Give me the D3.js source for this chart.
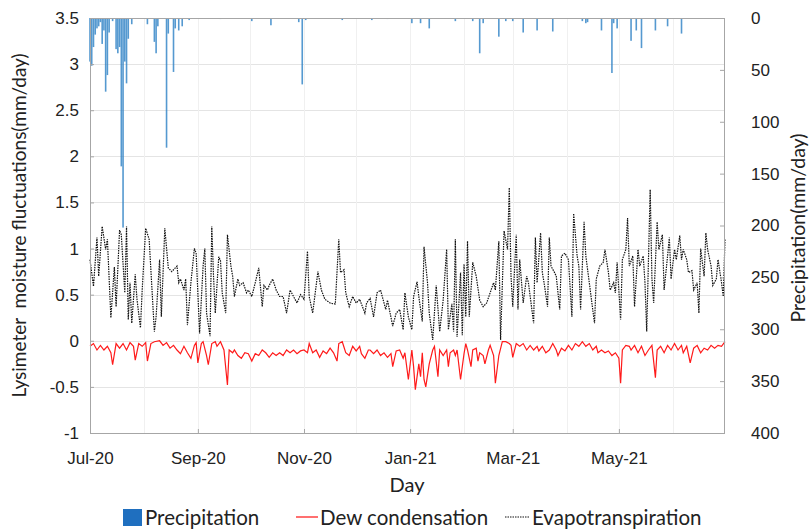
<!DOCTYPE html>
<html>
<head>
<meta charset="utf-8">
<script src="https://cdn.jsdelivr.net/npm/d3@7"></script>
<style>
  body { margin: 0; background: #fff; }
  svg { display: block; font-family: Lato, "Open Sans", sans-serif; }
</style>
</head>
<body>
<script>
const width = 809;
const height = 531;
const margin = { top: 18, right: 84, bottom: 98, left: 90 };

// days counted from 1 Jul 2020
const startDate = new Date(2020, 6, 1);
const endDate = new Date(2021, 6, 1);

const leftTicks = [-1, -0.5, 0, 0.5, 1, 1.5, 2, 2.5, 3, 3.5];
const rightTicks = [0, 50, 100, 150, 200, 250, 300, 350, 400];

// precipitation (mm/day): day index and amount
const precipDay = [0, 1, 2, 3, 4, 5, 6, 7, 8, 9, 10, 11, 13, 15, 16, 17, 18, 19, 20, 21,
  22, 24, 33, 37, 38, 39, 44, 45, 48, 49, 51, 53, 57, 75, 93, 104, 120, 122, 124, 145,
  162, 171, 185, 190, 195, 210, 220, 224, 226, 235, 239, 243, 249, 257, 266, 283, 285,
  286, 294, 300, 301, 303, 311, 314, 317, 325, 332, 340];
const precipMm = [42, 46, 28, 16, 10, 8, 4, 25, 12, 71, 55, 14, 3, 30, 34, 28, 143, 202, 42, 63,
  20, 6, 6, 23, 34, 8, 125, 15, 52, 10, 12, 8, 2, 1, 3, 7, 4, 64, 2, 2,
  2, 1, 5, 5, 10, 3, 3, 34, 5, 18, 3, 3, 14, 12, 13, 3, 5,
  4, 12, 53, 5, 10, 22, 12, 29, 12, 8, 15];

// dew condensation (mm/day)
const dewDay = [0, 2, 4, 6, 8, 10, 12, 13, 15, 17, 19, 21, 23, 25, 26, 28, 30, 32, 33, 35,
  37, 40, 42, 44, 46, 48, 50, 52, 54, 56, 58, 60, 61, 62, 64, 65, 67, 68, 70, 72,
  73, 75, 77, 79, 80, 82, 83, 85, 87, 89, 91, 93, 95, 97, 99, 101, 103, 105, 107, 109,
  111, 113, 115, 117, 119, 121, 123, 125, 126, 128, 130, 132, 134, 136, 138, 140, 142, 143, 145, 147,
  149, 151, 153, 155, 156, 158, 160, 161, 163, 165, 167, 169, 171, 173, 174, 176, 178, 180, 181, 183,
  185, 186, 187, 189, 190, 191, 192, 193, 195, 197, 198, 200, 201, 203, 205, 206, 207, 209, 210, 211,
  213, 215, 216, 217, 219, 220, 222, 223, 224, 226, 227, 229, 230, 232, 233, 235, 237, 239, 241, 242,
  243, 245, 247, 249, 251, 253, 255, 257, 258, 260, 262, 264, 266, 268, 269, 271, 273, 275, 277, 279,
  281, 283, 285, 287, 289, 291, 292, 294, 296, 298, 300, 302, 304, 305, 306, 308, 310, 311, 313, 315,
  317, 319, 321, 323, 325, 326, 328, 330, 332, 334, 336, 338, 340, 341, 343, 345, 347, 349, 351, 353,
  355, 357, 359, 361, 363, 365];
const dewVal = [-0.06, -0.03, -0.1, -0.05, -0.1, -0.06, -0.13, -0.26, -0.03, -0.08, -0.03, -0.1, -0.02, -0.06, -0.21, -0.03, -0.06, -0.02, -0.22, -0.03,
  -0.01, 0, -0.05, -0.02, -0.08, -0.05, -0.1, -0.14, -0.06, -0.13, -0.19, -0.05, -0.02, -0.24, -0.03, -0.01, -0.16, -0.26, -0.03, -0.01,
  -0.06, -0.01, -0.1, -0.48, -0.1, -0.13, -0.1, -0.16, -0.19, -0.13, -0.14, -0.22, -0.14, -0.16, -0.1, -0.13, -0.18, -0.13, -0.16, -0.13,
  -0.16, -0.1, -0.13, -0.1, -0.14, -0.11, -0.1, -0.13, -0.03, -0.13, -0.1, -0.18, -0.11, -0.14, -0.08, -0.13, -0.22, -0.03, -0.01, -0.13,
  -0.16, -0.06, -0.11, -0.06, -0.14, -0.19, -0.1, -0.1, -0.14, -0.1, -0.16, -0.13, -0.18, -0.14, -0.28, -0.11, -0.1, -0.19, -0.13, -0.42,
  -0.1, -0.28, -0.53, -0.25, -0.39, -0.13, -0.42, -0.5, -0.25, -0.1, -0.06, -0.39, -0.1, -0.16, -0.1, -0.28, -0.13, -0.1, -0.16, -0.1,
  -0.42, -0.14, -0.03, -0.1, -0.28, -0.1, -0.08, -0.22, -0.13, -0.16, -0.25, -0.1, -0.05, -0.16, -0.46, -0.16, -0.01, -0.01, -0.03, -0.05,
  -0.18, -0.03, -0.06, -0.03, -0.1, -0.05, -0.1, -0.06, -0.11, -0.06, -0.13, -0.1, -0.03, -0.1, -0.16, -0.08, -0.11, -0.05, -0.1, -0.03,
  -0.06, -0.01, -0.06, -0.03, -0.1, -0.06, -0.13, -0.1, -0.13, -0.11, -0.16, -0.13, -0.19, -0.46, -0.1, -0.05, -0.06, -0.1, -0.05, -0.13,
  -0.06, -0.16, -0.1, -0.05, -0.4, -0.1, -0.06, -0.13, -0.05, -0.1, -0.03, -0.1, -0.05, -0.13, -0.06, -0.24, -0.08, -0.05, -0.13, -0.08,
  -0.1, -0.05, -0.08, -0.05, -0.06, -0.01];

// evapotranspiration (mm/day)
const etDay = [0, 2, 4, 5, 7, 9, 10, 12, 14, 15, 17, 18, 20, 21, 22, 23, 24, 26, 27, 29,
  30, 32, 33, 34, 37, 38, 40, 41, 43, 45, 47, 50, 51, 52, 54, 55, 56, 58, 60, 61,
  63, 65, 66, 67, 69, 70, 71, 72, 74, 75, 76, 78, 79, 81, 82, 83, 85, 86, 88, 90,
  91, 93, 95, 97, 99, 100, 102, 103, 105, 107, 109, 111, 113, 115, 117, 119, 121, 123, 125, 126,
  128, 131, 133, 135, 138, 140, 141, 143, 144, 146, 147, 149, 151, 153, 155, 158, 159, 161, 163, 165,
  167, 170, 171, 174, 176, 178, 180, 181, 183, 185, 186, 188, 189, 191, 192, 194, 195, 197, 199, 201,
  203, 205, 206, 208, 209, 210, 211, 213, 214, 215, 216, 217, 218, 220, 222, 224, 226, 228, 230, 232,
  233, 235, 236, 238, 240, 241, 242, 243, 245, 246, 247, 249, 251, 252, 255, 256, 257, 259, 260, 261,
  263, 264, 265, 267, 268, 270, 271, 273, 275, 277, 278, 280, 281, 282, 284, 285, 287, 288, 290, 291,
  293, 295, 296, 298, 299, 301, 302, 303, 305, 306, 308, 309, 310, 312, 313, 315, 316, 318, 319, 320,
  322, 323, 324, 326, 327, 329, 330, 332, 333, 334, 336, 337, 339, 340, 341, 343, 344, 346, 347, 349,
  350, 351, 353, 354, 355, 357, 358, 360, 361, 363, 364, 365];
const etVal = [0.88, 0.59, 1.12, 0.7, 1.24, 0.99, 1.1, 0.25, 0.8, 0.37, 1.2, 1.15, 0.52, 1.24, 0.23, 0.63, 0.19, 0.72, 0.45, 0.14,
  0.55, 1.22, 1.16, 1.1, 0.1, 0.26, 0.88, 0.26, 1.22, 0.79, 0.75, 0.81, 0.63, 0.67, 0.55, 0.67, 0.17, 0.63, 1.0, 0.95,
  0.08, 0.81, 1.0, 0.3, 0.05, 1.24, 0.7, 0.3, 0.91, 0.87, 0.52, 0.3, 1.15, 0.81, 0.7, 0.48, 0.67, 0.6, 0.63, 0.52,
  0.55, 0.48, 0.63, 0.79, 0.37, 0.6, 0.55, 0.6, 0.67, 0.55, 0.48, 0.48, 0.3, 0.55, 0.48, 0.41, 0.5, 0.45, 0.97, 0.48,
  0.3, 0.75, 0.55, 0.45, 0.41, 0.4, 0.4, 1.1, 0.74, 0.77, 0.52, 0.37, 0.48, 0.41, 0.45, 0.3, 0.41, 0.46, 0.26, 0.52,
  0.55, 0.34, 0.44, 0.16, 0.3, 0.34, 0.12, 0.52, 0.26, 0.12, 0.48, 0.64, 0.48, 0.21, 1.02, 0.63, 0.3, 0.01, 0.6, 0.1,
  0.44, 0.99, 0.12, 0.4, 0.1, 1.1, 0.04, 0.74, 0.06, 0.83, 0.26, 1.08, 0.26, 0.85, 0.7, 0.44, 0.37, 0.41, 0.52, 0.63,
  0.55, 1.08, 0.01, 1.19, 0.99, 1.66, 0.7, 0.37, 1.15, 0.34, 0.88, 0.41, 0.7, 0.63, 0.19, 1.12, 0.63, 1.17, 0.74, 0.63,
  0.37, 1.12, 0.81, 0.74, 0.7, 0.34, 0.92, 0.95, 0.88, 0.26, 1.38, 0.92, 0.81, 0.34, 1.29, 0.92, 0.63, 0.48, 0.19, 0.67,
  0.81, 0.85, 0.99, 0.74, 0.55, 0.63, 0.52, 0.85, 0.23, 0.88, 0.99, 1.33, 0.81, 0.92, 0.37, 0.99, 0.81, 0.92, 0.63, 0.1,
  1.64, 0.67, 0.41, 1.29, 0.99, 1.15, 0.55, 0.92, 1.12, 0.67, 0.99, 0.88, 1.14, 0.88, 0.99, 0.88, 0.74, 0.76, 0.55, 0.63,
  0.3, 1.0, 0.7, 1.17, 0.99, 0.81, 0.6, 0.67, 0.88, 0.63, 0.48, 1.1];

const toDate = (d) => d3.timeDay.offset(startDate, d);

const x = d3.scaleTime()
  .domain([startDate, endDate])
  .range([margin.left, width - margin.right]);
const y = d3.scaleLinear()
  .domain([-1, 3.5])
  .range([height - margin.bottom, margin.top]);
const y2 = d3.scaleLinear()
  .domain([0, 400])
  .range([margin.top, height - margin.bottom]);

const svg = d3.select("body").append("svg")
  .attr("width", width)
  .attr("height", height);

// grid
svg.append("g")
  .attr("stroke", "#e4e4e4")
  .selectAll("line")
  .data(leftTicks.slice(1, -1))
  .join("line")
  .attr("x1", x.range()[0]).attr("x2", x.range()[1])
  .attr("y1", (d) => Math.round(y(d)) + 0.5).attr("y2", (d) => Math.round(y(d)) + 0.5);

svg.append("g")
  .attr("stroke", "#f0f0f0")
  .selectAll("line")
  .data(d3.timeMonth.range(d3.timeMonth.offset(startDate, 1), endDate))
  .join("line")
  .attr("x1", (d) => Math.round(x(d)) + 0.5).attr("x2", (d) => Math.round(x(d)) + 0.5)
  .attr("y1", y.range()[1]).attr("y2", y.range()[0]);

// precipitation bars hanging from the top
svg.append("g")
  .attr("fill", "#2a7fc4")
  .attr("fill-opacity", 0.8)
  .selectAll("rect")
  .data(precipDay.map((d, i) => ({ date: toDate(d), v: precipMm[i] })))
  .join("rect")
  .attr("x", (d) => x(d.date) - 0.8)
  .attr("width", 1.6)
  .attr("y", y2(0))
  .attr("height", (d) => y2(d.v) - y2(0));

const line = d3.line().x((d) => x(d.date)).y((d) => y(d.v));

svg.append("path")
  .datum(dewDay.map((d, i) => ({ date: toDate(d), v: dewVal[i] })))
  .attr("fill", "none")
  .attr("stroke", "#ff1a1a")
  .attr("stroke-width", 1.2)
  .attr("d", line);

svg.append("path")
  .datum(etDay.map((d, i) => ({ date: toDate(d), v: etVal[i] })))
  .attr("fill", "none")
  .attr("stroke", "#111")
  .attr("stroke-width", 1.2)
  .attr("stroke-dasharray", "1.5,1")
  .attr("d", line);

// frame
svg.append("rect")
  .attr("x", margin.left + 0.5)
  .attr("y", margin.top + 0.5)
  .attr("width", width - margin.left - margin.right - 1)
  .attr("height", height - margin.top - margin.bottom)
  .attr("fill", "none")
  .attr("stroke", "#a6a6a6");

// axes
const axisLeft = svg.append("g")
  .attr("transform", `translate(${margin.left},0)`)
  .call(d3.axisRight(y).tickValues(leftTicks).tickSize(4).tickFormat((d) => String(d)));
axisLeft.select(".domain").remove();
axisLeft.selectAll("line").attr("stroke", "#a6a6a6");
axisLeft.selectAll("text")
  .attr("x", -11).attr("text-anchor", "end")
  .attr("font-size", 17).attr("fill", "#222").attr("font-family", null);

const axisRight = svg.append("g")
  .attr("transform", `translate(${width - margin.right},0)`)
  .call(d3.axisLeft(y2).tickValues(rightTicks).tickSize(5));
axisRight.select(".domain").remove();
axisRight.selectAll("line").attr("stroke", "#a6a6a6");
axisRight.selectAll("text")
  .attr("x", 26).attr("text-anchor", "start")
  .attr("font-size", 17).attr("fill", "#222").attr("font-family", null);

const axisBottom = svg.append("g")
  .attr("transform", `translate(0,${height - margin.bottom})`)
  .call(d3.axisTop(x)
    .tickValues(d3.timeMonth.range(startDate, endDate, 2))
    .tickSize(4)
    .tickFormat(d3.timeFormat("%b-%y")));
axisBottom.select(".domain").remove();
axisBottom.selectAll("line").attr("stroke", "#a6a6a6");
axisBottom.selectAll("text")
  .attr("y", 31).attr("dy", 0)
  .attr("font-size", 17).attr("fill", "#222").attr("font-family", null);

// titles
svg.append("text")
  .attr("transform", `translate(26,${(y.range()[0] + y.range()[1]) / 2}) rotate(-90)`)
  .attr("text-anchor", "middle")
  .attr("font-size", 19).attr("fill", "#222")
  .attr("xml:space", "preserve")
  .text("Lysimeter  moisture fluctuations(mm/day)");

svg.append("text")
  .attr("transform", `translate(805,228) rotate(-90)`)
  .attr("text-anchor", "middle")
  .attr("font-size", 19.5).attr("fill", "#222")
  .text("Precipitation(mm/day)");

svg.append("text")
  .attr("x", 407).attr("y", 492)
  .attr("text-anchor", "middle")
  .attr("font-size", 20).attr("fill", "#222")
  .text("Day");

// legend
const legend = svg.append("g").attr("font-size", 20.5).attr("fill", "#222");
legend.append("rect").attr("x", 123).attr("y", 509).attr("width", 19).attr("height", 17).attr("fill", "#1f6fbf");
legend.append("text").attr("x", 145).attr("y", 525).text("Precipitation");
legend.append("line").attr("x1", 296).attr("x2", 318).attr("y1", 517).attr("y2", 517)
  .attr("stroke", "#ff4040").attr("stroke-width", 1.5);
legend.append("text").attr("x", 320).attr("y", 525).text("Dew condensation");
legend.append("line").attr("x1", 505).attr("x2", 530).attr("y1", 517).attr("y2", 517)
  .attr("stroke", "#111").attr("stroke-width", 1.2).attr("stroke-dasharray", "1.5,1");
legend.append("text").attr("x", 532).attr("y", 525).text("Evapotranspiration");
</script>
</body>
</html>
